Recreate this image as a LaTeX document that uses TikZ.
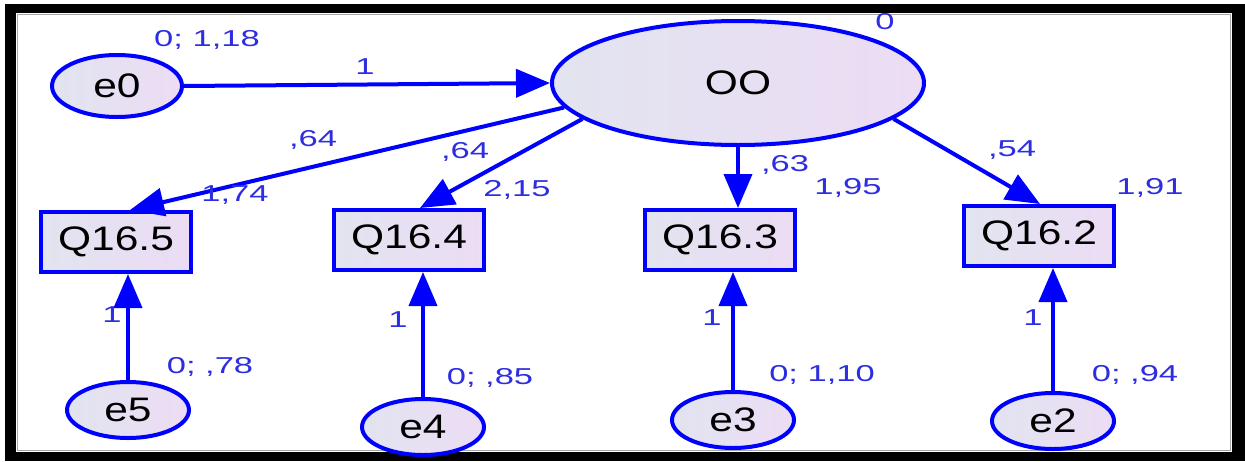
\documentclass[tikz,border=0pt]{standalone}
\usepackage{fontspec}
\setmainfont{Liberation Sans}
\newfontfamily\nodefont[FakeStretch=1.25]{Liberation Sans}
\newfontfamily\labfont[FakeStretch=1.5]{Liberation Sans}
\usetikzlibrary{arrows.meta,shapes.geometric,calc}
\definecolor{amosblue}{RGB}{0,0,255}
\definecolor{labblue}{RGB}{45,45,225}
\definecolor{fillL}{RGB}{226,228,240}
\definecolor{fillR}{RGB}{236,220,244}
\tikzset{
  lat/.style={ellipse, draw=amosblue, line width=4pt, left color=fillL, right color=fillR,
    inner sep=0pt, font=\nodefont\fontsize{34}{34}\selectfont},
  obs/.style={rectangle, draw=amosblue, line width=4pt, left color=fillL, right color=fillR,
    minimum width=150pt, minimum height=60pt, inner sep=0pt, font=\nodefont\fontsize{34}{34}\selectfont},
  errn/.style={lat, minimum width=122pt, minimum height=56pt},
  pth/.style={draw=amosblue, line width=4pt, -{Triangle[length=34pt,width=28pt]}},
  lab/.style={text=labblue, font=\labfont\fontsize{23}{23}\selectfont, inner sep=0pt}
}
\begin{document}
\begin{tikzpicture}[x=1pt,y=-1pt]
\useasboundingbox (0,0) rectangle (1245,461);
\fill[black] (5,4) rectangle (1245,461);
\fill[white] (16,13) rectangle (1232,452);
\draw[gray!70, line width=1pt] (17.5,14.5) rectangle (1230.5,450.5);

\node[lat, minimum width=130pt, minimum height=62pt] (e0) at (117,86) {e0};
\node[lat, minimum width=372pt, minimum height=124pt] (OO) at (738,83) {OO};

\node[obs] (q5) at (116,242) {Q16.5};
\node[obs] (q4) at (409,240) {Q16.4};
\node[obs] (q3) at (720,240) {Q16.3};
\node[obs] (q2) at (1039,236) {Q16.2};

\node[errn] (e5) at (128,410) {e5};
\node[errn] (e4) at (423,427) {e4};
\node[errn] (e3) at (733,420) {e3};
\node[errn] (e2) at (1053,421) {e2};

\draw[pth] (e0.east) -- (OO.west);
\draw[pth] (OO.188) -- ([xshift=14pt]q5.north);
\draw[pth] (OO.193) -- ([xshift=11pt]q4.north);
\draw[pth] (OO.south) -- (OO.south |- q3.north);
\draw[pth] (OO.-13) -- ([xshift=1pt]q2.north);

\draw[pth] (e5.north) -- (e5.north |- q5.south);
\draw[pth] (e4.north) -- (e4.north |- q4.south);
\draw[pth] (e3.north) -- (e3.north |- q3.south);
\draw[pth] (e2.north) -- (e2.north |- q2.south);

\node[lab] (l0) at (207,40) {0; 1,18};
\node[lab] (l1) at (365,67) {1};
\node[lab] (l2) at (885,22) {0};
\node[lab] (l3) at (313,140) {,64};
\node[lab] (l4) at (235,195) {1,74};
\node[lab] (l5) at (465,152) {,64};
\node[lab] (l6) at (517,190) {2,15};
\node[lab] (l7) at (785,165) {,63};
\node[lab] (l8) at (848,188) {1,95};
\node[lab] (l9) at (1012,150) {,54};
\node[lab] (l10) at (1150,188) {1,91};
\node[lab] (l11) at (112,315) {1};
\node[lab] (l12) at (210,367) {0; ,78};
\node[lab] (l13) at (398,320) {1};
\node[lab] (l14) at (490,378) {0; ,85};
\node[lab] (l15) at (712,318) {1};
\node[lab] (l16) at (822,375) {0; 1,10};
\node[lab] (l17) at (1033,318) {1};
\node[lab] (l18) at (1135,375) {0; ,94};
\end{tikzpicture}
\end{document}
